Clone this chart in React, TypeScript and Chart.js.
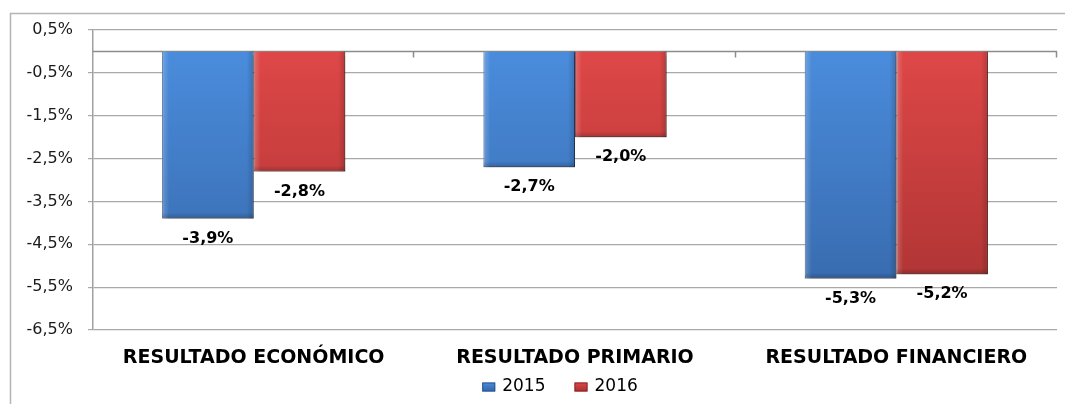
import React, { useEffect, useRef } from "react";
import { Chart, registerables } from "chart.js";

Chart.register(...registerables);

const categories = ["RESULTADO ECONÓMICO", "RESULTADO PRIMARIO", "RESULTADO FINANCIERO"];
const seriesNames = ["2015", "2016"];
const values2015 = [-3.9, -2.7, -5.3];
const values2016 = [-2.8, -2.0, -5.2];
const yMin = -6.5;
const yMax = 0.5;
const yStep = 1;

const FONT = '"DejaVu Sans", Verdana, sans-serif';

const fmt = (v: number) => v.toFixed(1).replace(".", ",") + "%";

const palettes = [
  { top: "#4a8cdc", bottom: "#3565a6", edge: "#2c5690" },
  { top: "#de4747", bottom: "#a73131", edge: "#8e2626" },
];

function makeGradient(ctx: any, chart: any, i: number) {
  const area = chart.chartArea;
  if (!area) return palettes[i].top;
  const y0 = chart.scales.y.getPixelForValue(0);
  const g = chart.ctx.createLinearGradient(0, y0, 0, area.bottom);
  g.addColorStop(0, palettes[i].top);
  g.addColorStop(1, palettes[i].bottom);
  return g;
}

const framePlugin = {
  id: "frame",
  beforeDraw(chart: any) {
    const ctx = chart.ctx;
    ctx.save();
    ctx.fillStyle = "#ffffff";
    ctx.fillRect(0, 0, chart.width, chart.height);
    ctx.strokeStyle = "#b5b5b5";
    ctx.lineWidth = 1.5;
    ctx.beginPath();
    ctx.moveTo(10.5, chart.height);
    ctx.lineTo(10.5, 13.5);
    ctx.lineTo(chart.width, 13.5);
    ctx.stroke();
    ctx.restore();
  },
};

const zeroLinePlugin = {
  id: "zeroLine",
  beforeDatasetsDraw(chart: any) {
    const { ctx, chartArea } = chart;
    const y0 = Math.round(chart.scales.y.getPixelForValue(0)) + 0.5;
    ctx.save();
    ctx.strokeStyle = "#8c8c8c";
    ctx.lineWidth = 1.5;
    ctx.beginPath();
    ctx.moveTo(chartArea.left, y0);
    ctx.lineTo(chartArea.right, y0);
    const n = categories.length;
    for (let i = 1; i <= n; i++) {
      const x = Math.round(chartArea.left + (i * (chartArea.right - chartArea.left)) / n) - 0.5;
      ctx.moveTo(x, y0);
      ctx.lineTo(x, y0 + 6);
    }
    ctx.stroke();
    ctx.restore();
  },
};

const shadowPlugin = {
  id: "barShadow",
  beforeDatasetDraw(chart: any) {
    const ctx = chart.ctx;
    ctx.save();
    ctx.shadowColor = "rgba(0,0,0,0.35)";
    ctx.shadowBlur = 5;
    ctx.shadowOffsetX = 2;
    ctx.shadowOffsetY = 3;
  },
  afterDatasetDraw(chart: any, args: any) {
    const ctx = chart.ctx;
    ctx.restore();
    const meta = chart.getDatasetMeta(args.index);
    meta.data.forEach((bar: any) => {
      const left = bar.x - bar.width / 2;
      const right = bar.x + bar.width / 2;
      const top = Math.min(bar.y, bar.base);
      const bottom = Math.max(bar.y, bar.base);
      ctx.save();
      const gl = ctx.createLinearGradient(left, 0, left + 7, 0);
      gl.addColorStop(0, "rgba(255,255,255,0.22)");
      gl.addColorStop(1, "rgba(255,255,255,0)");
      ctx.fillStyle = gl;
      ctx.fillRect(left, top, 7, bottom - top);
      const gr = ctx.createLinearGradient(right - 7, 0, right, 0);
      gr.addColorStop(0, "rgba(0,0,0,0)");
      gr.addColorStop(1, "rgba(0,0,0,0.18)");
      ctx.fillStyle = gr;
      ctx.fillRect(right - 7, top, 7, bottom - top);
      const gb = ctx.createLinearGradient(0, bottom - 6, 0, bottom);
      gb.addColorStop(0, "rgba(0,0,0,0)");
      gb.addColorStop(1, "rgba(0,0,0,0.2)");
      ctx.fillStyle = gb;
      ctx.fillRect(left, bottom - 6, right - left, 6);
      ctx.restore();
    });
  },
};

const valueLabelPlugin = {
  id: "valueLabels",
  afterDatasetsDraw(chart: any) {
    const ctx = chart.ctx;
    ctx.save();
    ctx.font = `bold 16px ${FONT}`;
    ctx.fillStyle = "#000000";
    ctx.textAlign = "center";
    ctx.textBaseline = "middle";
    chart.data.datasets.forEach((ds: any, i: number) => {
      const meta = chart.getDatasetMeta(i);
      meta.data.forEach((bar: any, j: number) => {
        const v = ds.data[j];
        const bottom = Math.max(bar.y, bar.base);
        ctx.fillText(fmt(v), bar.x, bottom + 20);
      });
    });
    ctx.restore();
  },
};

const legendPlugin = {
  id: "customLegend",
  afterDraw(chart: any) {
    const ctx = chart.ctx;
    ctx.save();
    ctx.font = `17px ${FONT}`;
    ctx.textBaseline = "middle";
    const boxW = 13;
    const boxH = 9;
    const gap = 7;
    const spacing = 29;
    const items = chart.data.datasets.map((ds: any) => ({
      label: ds.label,
      w: boxW + gap + ctx.measureText(ds.label).width,
    }));
    const total = items.reduce((s: number, it: any) => s + it.w, 0) + spacing * (items.length - 1);
    let x = 560 - total / 2;
    const y = 387;
    items.forEach((it: any, i: number) => {
      const g = ctx.createLinearGradient(0, y - boxH / 2, 0, y + boxH / 2);
      g.addColorStop(0, palettes[i].top);
      g.addColorStop(1, palettes[i].bottom);
      ctx.fillStyle = g;
      ctx.fillRect(x, y - boxH / 2, boxW, boxH);
      ctx.strokeStyle = palettes[i].edge;
      ctx.lineWidth = 1;
      ctx.strokeRect(x + 0.5, y - boxH / 2 + 0.5, boxW - 1, boxH - 1);
      ctx.fillStyle = "#000000";
      ctx.fillText(it.label, x + boxW + gap, y);
      x += it.w + spacing;
    });
    ctx.restore();
  },
};

export default function App() {
  const canvasRef = useRef<HTMLCanvasElement | null>(null);

  useEffect(() => {
    const canvas = canvasRef.current;
    if (!canvas) return;
    const chart = new Chart(canvas, {
      type: "bar",
      data: {
        labels: categories,
        datasets: [
          {
            label: seriesNames[0],
            data: values2015,
            backgroundColor: (c: any) => makeGradient(c, c.chart, 0),
            borderColor: palettes[0].edge,
            borderWidth: 1,
          },
          {
            label: seriesNames[1],
            data: values2016,
            backgroundColor: (c: any) => makeGradient(c, c.chart, 1),
            borderColor: palettes[1].edge,
            borderWidth: 1,
          },
        ],
      },
      options: {
        responsive: false,
        animation: false,
        devicePixelRatio: 1,
        layout: { padding: { top: 30, right: 8, left: 0, bottom: 0 } },
        datasets: {
          bar: { categoryPercentage: 0.57, barPercentage: 1 },
        },
        plugins: {
          legend: { display: false },
          tooltip: { enabled: false },
          title: { display: false },
        },
        scales: {
          x: {
            grid: { display: false },
            border: { display: false },
            ticks: {
              padding: 9,
              color: "#000000",
              font: { family: FONT, size: 19, weight: "bold" },
              maxRotation: 0,
              autoSkip: false,
            },
            afterFit(scale: any) {
              scale.height = 74;
            },
          },
          y: {
            min: yMin,
            max: yMax,
            ticks: {
              stepSize: yStep,
              padding: 15,
              color: "#1a1a1a",
              font: { family: FONT, size: 16 },
              callback: (v: any) => fmt(Number(v)),
            },
            grid: {
              color: "#a9a9a9",
              lineWidth: 1.2,
              tickLength: 5,
              tickColor: "#a9a9a9",
            },
            border: { display: true, color: "#a0a0a0", width: 1.5 },
            afterFit(scale: any) {
              scale.width = 93;
            },
          },
        },
      },
      plugins: [framePlugin, zeroLinePlugin, shadowPlugin, valueLabelPlugin, legendPlugin],
    } as any);
    return () => chart.destroy();
  }, []);

  return (
    <div style={{ position: "absolute", left: 0, top: 0, width: 1065, height: 404, background: "#fff" }}>
      <canvas ref={canvasRef} width={1065} height={404} style={{ display: "block" }} />
    </div>
  );
}
